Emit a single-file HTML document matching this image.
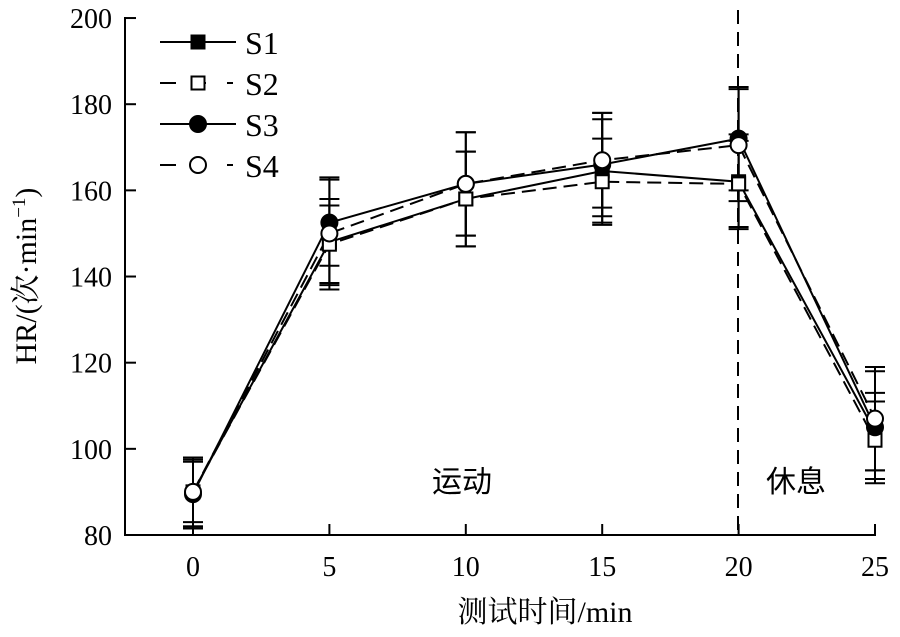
<!DOCTYPE html><html><head><meta charset="utf-8"><style>body{margin:0;background:#fff}svg{display:block}</style></head><body>
<svg id="s" width="900" height="637" viewBox="0 0 900 637" xmlns="http://www.w3.org/2000/svg" font-family="'Liberation Serif','Noto Serif CJK SC',serif">
<g stroke="#000" stroke-width="2" fill="none">
<line x1="125" y1="17" x2="125" y2="536"/><line x1="124" y1="535" x2="876" y2="535"/>
<line x1="738" y1="10" x2="738" y2="535" stroke-dasharray="14,8"/>
</g>
<g id="ax" font-size="28"></g>
<text x="432" y="492" font-size="30" font-family="'Noto Sans CJK SC',sans-serif">运动</text>
<text x="766" y="492" font-size="30" font-family="'Noto Sans CJK SC',sans-serif">休息</text>
<text x="545" y="622" font-size="30" text-anchor="middle">测试时间/min</text>
<text transform="translate(36,276) rotate(-90)" font-size="30" text-anchor="middle">HR/(次·min<tspan dy="-11" font-size="19">−1</tspan><tspan dy="11">)</tspan></text>
<g id="d"></g>
<g id="lg" font-size="32"></g>
</svg>
<script>
const NS="http://www.w3.org/2000/svg";
function el(p,t,a,txt){const e=document.createElementNS(NS,t);for(const k in a)e.setAttribute(k,a[k]);if(txt!=null)e.textContent=txt;p.appendChild(e);return e;}
const X=t=>193+t*27.28,Y=v=>535-(v-80)*4.308;
const ax=document.getElementById('ax');
for(let v=80;v<=200;v+=20){el(ax,'line',{x1:125,x2:136,y1:Y(v),y2:Y(v),stroke:'#000','stroke-width':2});el(ax,'text',{x:112,y:Y(v)+10,'text-anchor':'end'},v);}
for(let t=0;t<=25;t+=5){el(ax,'line',{x1:X(t),x2:X(t),y1:535,y2:524,stroke:'#000','stroke-width':2});el(ax,'text',{x:X(t),y:576,'text-anchor':'middle'},t);}
const T=[0,5,10,15,20,25];
const S=[
 {v:[90,148,158,164.5,162,104],e:[8,10,11,12,11,9],dash:false,m:'sq',f:'#000'},
 {v:[90,147.5,158,162,161.5,102],e:[7,9,11,10,10,9],dash:true,m:'sq',f:'#fff'},
 {v:[89.5,152.5,161.5,166,172,105],e:[8,10,12,12,12,13],dash:false,m:'ci',f:'#000'},
 {v:[90,150,161.5,167,170.5,107],e:[8,13,12,11,13,12],dash:true,m:'ci',f:'#fff'}];
const d=document.getElementById('d');
S.forEach(s=>{T.forEach((t,i)=>{const x=X(t),a=Y(s.v[i]+s.e[i]),b=Y(s.v[i]-s.e[i]);
 el(d,'line',{x1:x,x2:x,y1:a,y2:b,stroke:'#000','stroke-width':2});
 el(d,'line',{x1:x-10,x2:x+10,y1:a,y2:a,stroke:'#000','stroke-width':2});
 el(d,'line',{x1:x-10,x2:x+10,y1:b,y2:b,stroke:'#000','stroke-width':2});});});
S.forEach(s=>{el(d,'polyline',{points:T.map((t,i)=>X(t)+','+Y(s.v[i])).join(' '),fill:'none',stroke:'#000','stroke-width':2,'stroke-dasharray':s.dash?'14,7':'none'});});
function mk(g,s,x,y){if(s.m==='sq')el(g,'rect',{x:x-6.5,y:y-6.5,width:13,height:13,fill:s.f,stroke:'#000','stroke-width':2});else el(g,'circle',{cx:x,cy:y,r:8,fill:s.f,stroke:'#000','stroke-width':2});}
S.forEach(s=>T.forEach((t,i)=>mk(d,s,X(t),Y(s.v[i]))));
const lg=document.getElementById('lg');
S.forEach((s,i)=>{const y=42+i*41;
 if(s.dash){el(lg,'line',{x1:160,x2:176,y1:y,y2:y,stroke:'#000','stroke-width':2});el(lg,'line',{x1:197,x2:206,y1:y,y2:y,stroke:'#000','stroke-width':2});el(lg,'line',{x1:227,x2:233,y1:y,y2:y,stroke:'#000','stroke-width':2});}
 else el(lg,'line',{x1:160,x2:236,y1:y,y2:y,stroke:'#000','stroke-width':2});
 mk(lg,s,198,y);el(lg,'text',{x:245,y:y+12},'S'+(i+1));});
</script></body></html>
